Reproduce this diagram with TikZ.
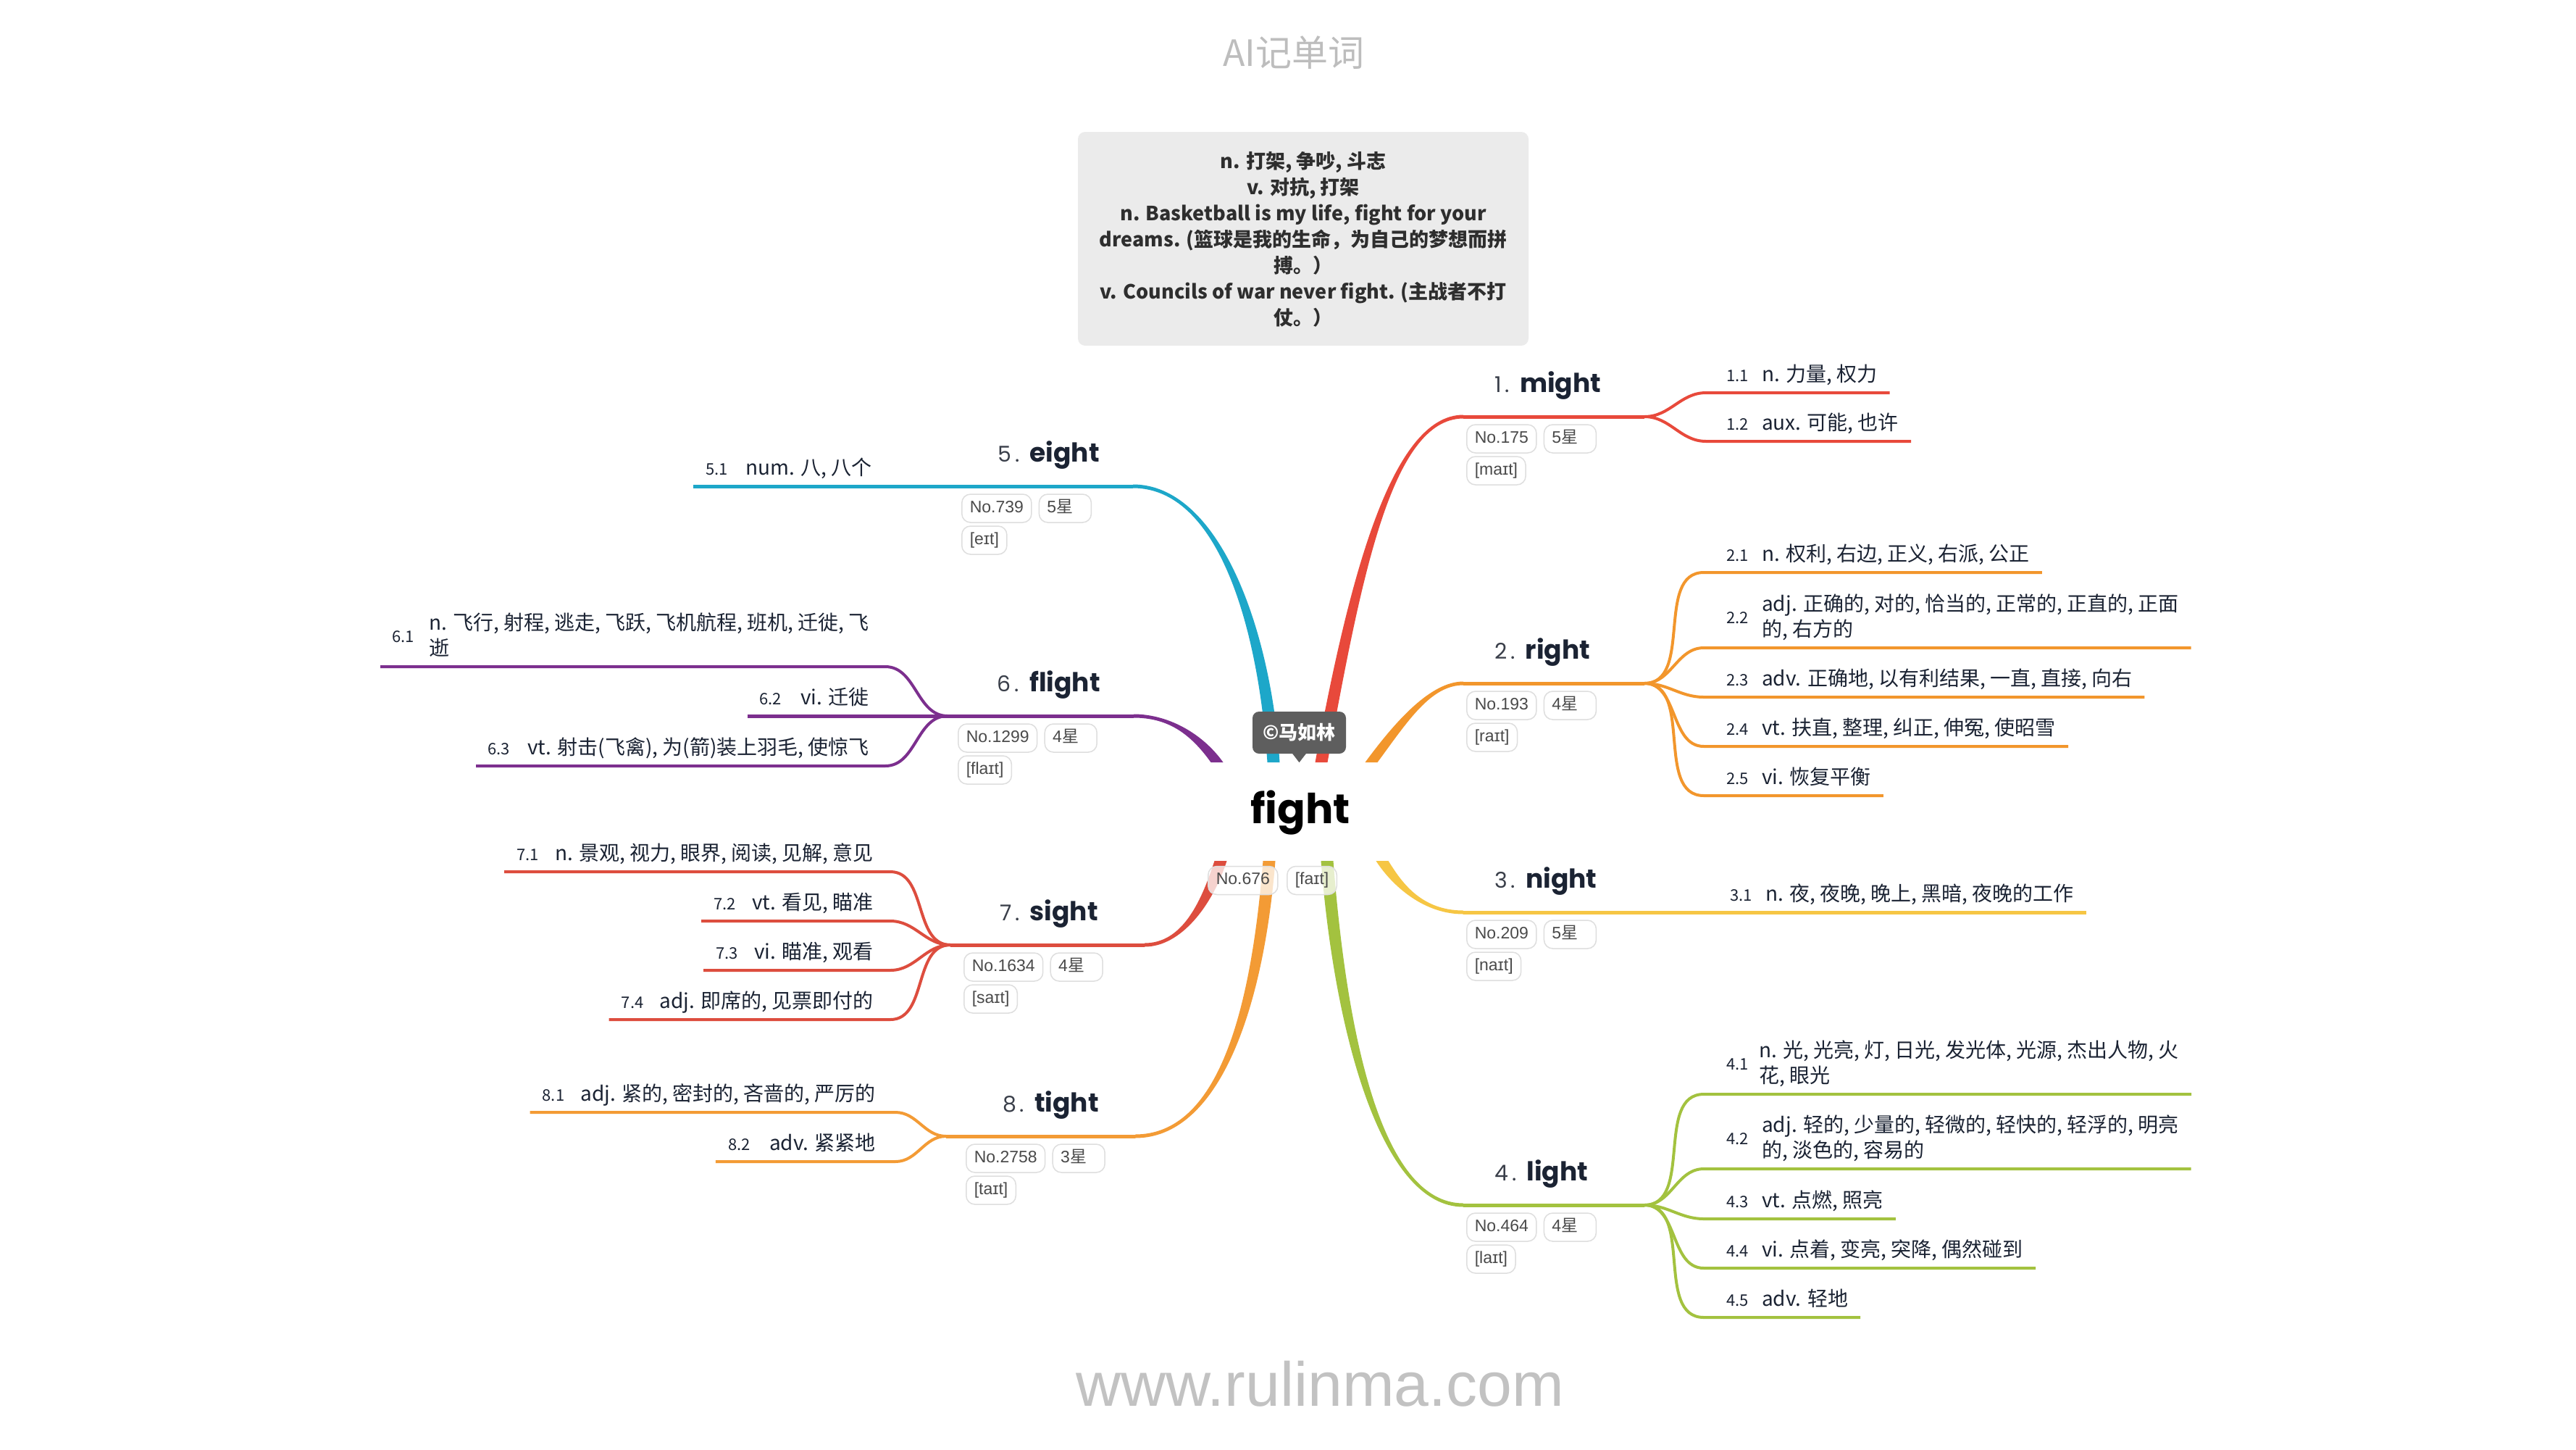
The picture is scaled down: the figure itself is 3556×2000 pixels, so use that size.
\documentclass[tikz,border=0pt]{standalone}
\usepackage{fontspec}
\setmainfont{Noto Sans CJK SC}
\newfontfamily\popfont{Poppins}
\newfontfamily\tagfam{Liberation Sans}
\newfontfamily\cjkf{Noto Sans CJK SC}
\usetikzlibrary{calc}
\definecolor{cmight}{HTML}{E8493B}
\definecolor{cright}{HTML}{F2962C}
\definecolor{cnight}{HTML}{F6C644}
\definecolor{clight}{HTML}{A3C23F}
\definecolor{ceight}{HTML}{1DA7C9}
\definecolor{cflight}{HTML}{7C2F8E}
\definecolor{csight}{HTML}{DD4D3E}
\definecolor{ctight}{HTML}{F39B35}
\definecolor{ink}{HTML}{1B2333}
\definecolor{numink}{HTML}{3A3F4A}
\definecolor{tagline}{HTML}{DEDEDE}
\definecolor{tagtext}{HTML}{4A4A4A}
\definecolor{notebg}{HTML}{EBEBEB}
\definecolor{notetext}{HTML}{2E2E2E}
\definecolor{bubble}{HTML}{5E5E5E}
\definecolor{titlegray}{HTML}{BDBDBD}
\definecolor{wmgray}{HTML}{C2C2C2}
\newcommand\myitemfont{\fontsize{28}{34}\selectfont}
\newcommand\mynumfont{\fontsize{22}{26}\selectfont}
\newcommand\mytagfont{\tagfam\fontsize{23}{27}\selectfont}
\newcommand\brttl[2]{{\popfont\color{numink}\fontsize{30}{36}\selectfont #1\hspace{5pt}.}\hspace{14pt}{\popfont\bfseries\fontsize{36}{42}\selectfont #2}}
\newcommand\starbox[1]{\makebox[50pt][l]{#1{\cjkf 星}}}
% tapered branch: -x side of start pairs with top of end
\newcommand\branchT[5]{\fill[#1] ($(#2)+(-8.5,0)$) .. controls ($(#3)+(-8.5,0)$) and ($(#4)+(0,-2.5)$) .. ($(#5)+(0,-2.5)$) -- ($(#5)+(0,2.5)$) .. controls ($(#4)+(0,2.5)$) and ($(#3)+(8.5,0)$) .. ($(#2)+(8.5,0)$) -- cycle;}
% tapered branch: -x side of start pairs with bottom of end
\newcommand\branchB[5]{\fill[#1] ($(#2)+(-8.5,0)$) .. controls ($(#3)+(-8.5,0)$) and ($(#4)+(0,2.5)$) .. ($(#5)+(0,2.5)$) -- ($(#5)+(0,-2.5)$) .. controls ($(#4)+(0,-2.5)$) and ($(#3)+(8.5,0)$) .. ($(#2)+(8.5,0)$) -- cycle;}
\tikzset{
  itemR/.style={anchor=base west, inner sep=0pt, font=\myitemfont, text=ink},
  itemL/.style={anchor=base east, inner sep=0pt, font=\myitemfont, text=ink},
  numR/.style={anchor=base west, inner sep=0pt, font=\mynumfont, text=ink},
  numL/.style={anchor=base east, inner sep=0pt, font=\mynumfont, text=ink},
  ttlR/.style={anchor=base west, inner sep=0pt, text=ink},
  ttlL/.style={anchor=base east, inner sep=0pt, text=ink},
  tagbox/.style={draw=tagline, line width=1.5pt, fill=white, rounded corners=12pt,
    inner xsep=11pt, inner ysep=0pt, minimum height=39pt, text height=16pt, text depth=5pt,
    font=\mytagfont, text=tagtext, anchor=west},
  subline/.style={line width=4pt},
  mainline/.style={line width=5pt},
}
\begin{document}
\begin{tikzpicture}[x=1pt,y=-1pt]
\useasboundingbox (0,0) rectangle (3556,2000);
\fill[white] (0,0) rectangle (3556,2000);

% ---------- coordinates of the main branches ----------
\coordinate (b1s) at (1824,1052); \coordinate (b1a) at (1870,802); \coordinate (b1b) at (1920,575); \coordinate (b1e) at (2020,575); \coordinate (b1x) at (2270,575);
\coordinate (b2s) at (1893,1052); \coordinate (b2a) at (1935,995); \coordinate (b2b) at (1975,943); \coordinate (b2e) at (2020,943); \coordinate (b2x) at (2270,943);
\coordinate (b3s) at (1908,1188); \coordinate (b3a) at (1925,1215); \coordinate (b3b) at (1960,1259); \coordinate (b3e) at (2020,1259);
\coordinate (b4s) at (1832,1188); \coordinate (b4a) at (1850,1420); \coordinate (b4b) at (1905,1663); \coordinate (b4e) at (2020,1663); \coordinate (b4x) at (2270,1663);
\coordinate (b5s) at (1758,1052); \coordinate (b5a) at (1745,860); \coordinate (b5b) at (1680,671); \coordinate (b5e) at (1564,671);
\coordinate (b6s) at (1680,1052); \coordinate (b6a) at (1650,1010); \coordinate (b6b) at (1610,988); \coordinate (b6e) at (1565,988); \coordinate (b6x) at (1308,988);
\coordinate (b7s) at (1685,1188); \coordinate (b7a) at (1665,1250); \coordinate (b7b) at (1630,1304); \coordinate (b7e) at (1580,1304); \coordinate (b7x) at (1312,1304);
\coordinate (b8s) at (1752,1188); \coordinate (b8a) at (1735,1400); \coordinate (b8b) at (1680,1568); \coordinate (b8e) at (1567,1568); \coordinate (b8x) at (1306,1568);

\branchT{cmight}{b1s}{b1a}{b1b}{b1e}
\branchT{cright}{b2s}{b2a}{b2b}{b2e}
\branchB{cnight}{b3s}{b3a}{b3b}{b3e}
\branchB{clight}{b4s}{b4a}{b4b}{b4e}
\branchB{ceight}{b5s}{b5a}{b5b}{b5e}
\branchB{cflight}{b6s}{b6a}{b6b}{b6e}
\branchT{csight}{b7s}{b7a}{b7b}{b7e}
\branchT{ctight}{b8s}{b8a}{b8b}{b8e}

\draw[mainline,cmight] (b1e) -- (b1x);
\draw[mainline,cright] (b2e) -- (b2x);
\draw[mainline,clight] (b4e) -- (b4x);
\draw[mainline,cflight] (b6e) -- (b6x);
\draw[mainline,csight] (b7e) -- (b7x);
\draw[mainline,ctight] (b8e) -- (b8x);

% ---------- title, note, watermark ----------
\node[anchor=base, inner sep=0pt, font=\fontsize{50}{56}\selectfont, text=titlegray] (ttl) at (1786,91) {AI记单词};
\node[fill=notebg, rounded corners=10pt, minimum width=622pt, minimum height=295pt, inner sep=0pt] (notebox) at (1799,329.5) {};
\node[align=center, font=\bfseries\fontsize{27}{36}\selectfont, text=notetext, inner sep=0pt] (note) at (1799,330) {n. 打架, 争吵, 斗志\\v. 对抗, 打架\\n. Basketball is my life, fight for your\\dreams. (篮球是我的生命，为自己的梦想而拼\\搏。）\\v. Councils of war never fight. (主战者不打\\仗。）};
\node[anchor=base, inner sep=0pt, font=\tagfam\fontsize{86}{96}\selectfont, text=wmgray] (wm) at (1822,1940) {www.rulinma.com};

% ---------- 1 might ----------
\node[ttlR] (h1) at (2063,541) {\brttl{1}{might}};
\node[tagbox] (g1a) at (2024,605.5) {No.175};
\node[tagbox] (g1b) at ($(g1a.east)+(9,0)$) {\starbox{5}};
\node[tagbox] (g1c) at (2024,649.5) {[maɪt]};
\node[numR] (n11) at (2383,526) {1.1};
\node[itemR] (t11) at (2432,526) {n. 力量, 权力};
\coordinate (s11) at (2355,542); \coordinate (e11) at ($(t11.east)+(17,0)$);
\draw[subline,cmight] (b1x) to[out=0,in=180] (s11) -- (s11 -| e11);
\node[numR] (n12) at (2383,593) {1.2};
\node[itemR] (t12) at (2432,593) {aux. 可能, 也许};
\coordinate (s12) at (2355,609); \coordinate (e12) at ($(t12.east)+(17,0)$);
\draw[subline,cmight] (b1x) to[out=0,in=180] (s12) -- (s12 -| e12);

% ---------- 2 right ----------
\node[ttlR] (h2) at (2063,909) {\brttl{2}{right}};
\node[tagbox] (g2a) at (2024,973.5) {No.193};
\node[tagbox] (g2b) at ($(g2a.east)+(9,0)$) {\starbox{4}};
\node[tagbox] (g2c) at (2024,1017.5) {[raɪt]};
\node[numR] (n21) at (2383,774) {2.1};
\node[itemR] (t21) at (2432,774) {n. 权利, 右边, 正义, 右派, 公正};
\coordinate (s21) at (2352,790); \coordinate (e21) at ($(t21.east)+(17,0)$);
\draw[subline,cright] (b2x) to[out=0,in=180] (s21) -- (s21 -| e21);
\node[numR] (n22) at (2383,860.5) {2.2};
\node[itemR] (t22a) at (2432,843) {adj. 正确的, 对的, 恰当的, 正常的, 正直的, 正面};
\node[itemR] (t22b) at (2432,878) {的, 右方的};
\coordinate (s22) at (2352,894); \coordinate (e22) at ($(t22a.east)+(17,0)$);
\draw[subline,cright] (b2x) to[out=0,in=180] (s22) -- (s22 -| e22);
\node[numR] (n23) at (2383,946) {2.3};
\node[itemR] (t23) at (2432,946) {adv. 正确地, 以有利结果, 一直, 直接, 向右};
\coordinate (s23) at (2352,962); \coordinate (e23) at ($(t23.east)+(17,0)$);
\draw[subline,cright] (b2x) to[out=0,in=180] (s23) -- (s23 -| e23);
\node[numR] (n24) at (2383,1014) {2.4};
\node[itemR] (t24) at (2432,1014) {vt. 扶直, 整理, 纠正, 伸冤, 使昭雪};
\coordinate (s24) at (2352,1030); \coordinate (e24) at ($(t24.east)+(17,0)$);
\draw[subline,cright] (b2x) to[out=0,in=180] (s24) -- (s24 -| e24);
\node[numR] (n25) at (2383,1082) {2.5};
\node[itemR] (t25) at (2432,1082) {vi. 恢复平衡};
\coordinate (s25) at (2352,1098); \coordinate (e25) at ($(t25.east)+(17,0)$);
\draw[subline,cright] (b2x) to[out=0,in=180] (s25) -- (s25 -| e25);

% ---------- 3 night ----------
\node[ttlR] (h3) at (2063,1225) {\brttl{3}{night}};
\node[tagbox] (g3a) at (2024,1289.5) {No.209};
\node[tagbox] (g3b) at ($(g3a.east)+(9,0)$) {\starbox{5}};
\node[tagbox] (g3c) at (2024,1333.5) {[naɪt]};
\node[numR] (n31) at (2388,1243) {3.1};
\node[itemR] (t31) at (2437,1243) {n. 夜, 夜晚, 晚上, 黑暗, 夜晚的工作};
\coordinate (e31) at ($(t31.east)+(17,0)$);
\draw[mainline,cnight] (b3e) -- (b3e -| e31);

% ---------- 4 light ----------
\node[ttlR] (h4) at (2063,1629) {\brttl{4}{light}};
\node[tagbox] (g4a) at (2024,1693.5) {No.464};
\node[tagbox] (g4b) at ($(g4a.east)+(9,0)$) {\starbox{4}};
\node[tagbox] (g4c) at (2024,1737.5) {[laɪt]};
\node[numR] (n41) at (2383,1476.5) {4.1};
\node[itemR] (t41a) at (2428,1459) {n. 光, 光亮, 灯, 日光, 发光体, 光源, 杰出人物, 火};
\node[itemR] (t41b) at (2428,1494) {花, 眼光};
\coordinate (s41) at (2352,1510); \coordinate (e41) at ($(t41a.east)+(17,0)$);
\draw[subline,clight] (b4x) to[out=0,in=180] (s41) -- (s41 -| e41);
\node[numR] (n42) at (2383,1579.5) {4.2};
\node[itemR] (t42a) at (2432,1562) {adj. 轻的, 少量的, 轻微的, 轻快的, 轻浮的, 明亮};
\node[itemR] (t42b) at (2432,1597) {的, 淡色的, 容易的};
\coordinate (s42) at (2352,1613); \coordinate (e42) at ($(t42a.east)+(17,0)$);
\draw[subline,clight] (b4x) to[out=0,in=180] (s42) -- (s42 -| e42);
\node[numR] (n43) at (2383,1666) {4.3};
\node[itemR] (t43) at (2432,1666) {vt. 点燃, 照亮};
\coordinate (s43) at (2352,1682); \coordinate (e43) at ($(t43.east)+(17,0)$);
\draw[subline,clight] (b4x) to[out=0,in=180] (s43) -- (s43 -| e43);
\node[numR] (n44) at (2383,1734) {4.4};
\node[itemR] (t44) at (2432,1734) {vi. 点着, 变亮, 突降, 偶然碰到};
\coordinate (s44) at (2352,1750); \coordinate (e44) at ($(t44.east)+(17,0)$);
\draw[subline,clight] (b4x) to[out=0,in=180] (s44) -- (s44 -| e44);
\node[numR] (n45) at (2383,1802) {4.5};
\node[itemR] (t45) at (2432,1802) {adv. 轻地};
\coordinate (s45) at (2352,1818); \coordinate (e45) at ($(t45.east)+(17,0)$);
\draw[subline,clight] (b4x) to[out=0,in=180] (s45) -- (s45 -| e45);

% ---------- 5 eight ----------
\node[ttlL] (h5) at (1518,637) {\brttl{5}{eight}};
\node[tagbox] (g5a) at (1327,701.5) {No.739};
\node[tagbox] (g5b) at ($(g5a.east)+(9,0)$) {\starbox{5}};
\node[tagbox] (g5c) at (1327,745.5) {[eɪt]};
\node[itemL] (t51) at (1204,655) {num. 八, 八个};
\node[numL] (n51) at ($(t51.base west)+(-24,0)$) {5.1};
\coordinate (e51) at ($(n51.west)+(-17,0)$);
\draw[mainline,ceight] (b5e) -- (b5e -| e51);

% ---------- 6 flight ----------
\node[ttlL] (h6) at (1519,954) {\brttl{6}{flight}};
\node[tagbox] (g6a) at (1322,1018.5) {No.1299};
\node[tagbox] (g6b) at ($(g6a.east)+(9,0)$) {\starbox{4}};
\node[tagbox] (g6c) at (1322,1062.5) {[flaɪt]};
\node[itemL] (t61a) at (1200,869) {n. 飞行, 射程, 逃走, 飞跃, 飞机航程, 班机, 迁徙, 飞};
\node[itemR] (t61b) at ($(t61a.base west)+(0,35)$) {逝};
\node[numL] (n61) at ($(t61a.base west)+(-20,17.5)$) {6.1};
\coordinate (s61) at (1222,920); \coordinate (e61) at ($(n61.west)+(-16,0)$);
\draw[subline,cflight] (b6x) to[out=180,in=0] (s61) -- (s61 -| e61);
\node[itemL] (t62) at (1200,972) {vi. 迁徙};
\node[numL] (n62) at ($(t62.base west)+(-26,0)$) {6.2};
\coordinate (e62) at ($(n62.west)+(-16,0)$);
\draw[mainline,cflight] (b6x) -- (b6x -| e62);
\node[itemL] (t63) at (1200,1041) {vt. 射击(飞禽), 为(箭)装上羽毛, 使惊飞};
\node[numL] (n63) at ($(t63.base west)+(-24,0)$) {6.3};
\coordinate (s63) at (1222,1057); \coordinate (e63) at ($(n63.west)+(-16,0)$);
\draw[subline,cflight] (b6x) to[out=180,in=0] (s63) -- (s63 -| e63);

% ---------- 7 sight ----------
\node[ttlL] (h7) at (1516,1270) {\brttl{7}{sight}};
\node[tagbox] (g7a) at (1330,1334.5) {No.1634};
\node[tagbox] (g7b) at ($(g7a.east)+(9,0)$) {\starbox{4}};
\node[tagbox] (g7c) at (1330,1378.5) {[saɪt]};
\node[itemL] (t71) at (1206,1187) {n. 景观, 视力, 眼界, 阅读, 见解, 意见};
\node[numL] (n71) at ($(t71.base west)+(-22,0)$) {7.1};
\coordinate (s71) at (1229,1203); \coordinate (e71) at ($(n71.west)+(-17,0)$);
\draw[subline,csight] (b7x) to[out=180,in=0] (s71) -- (s71 -| e71);
\node[itemL] (t72) at (1206,1255) {vt. 看见, 瞄准};
\node[numL] (n72) at ($(t72.base west)+(-22,0)$) {7.2};
\coordinate (s72) at (1229,1271); \coordinate (e72) at ($(n72.west)+(-17,0)$);
\draw[subline,csight] (b7x) to[out=180,in=0] (s72) -- (s72 -| e72);
\node[itemL] (t73) at (1206,1323) {vi. 瞄准, 观看};
\node[numL] (n73) at ($(t73.base west)+(-22,0)$) {7.3};
\coordinate (s73) at (1229,1339); \coordinate (e73) at ($(n73.west)+(-17,0)$);
\draw[subline,csight] (b7x) to[out=180,in=0] (s73) -- (s73 -| e73);
\node[itemL] (t74) at (1206,1391) {adj. 即席的, 见票即付的};
\node[numL] (n74) at ($(t74.base west)+(-22,0)$) {7.4};
\coordinate (s74) at (1229,1407); \coordinate (e74) at ($(n74.west)+(-17,0)$);
\draw[subline,csight] (b7x) to[out=180,in=0] (s74) -- (s74 -| e74);

% ---------- 8 tight ----------
\node[ttlL] (h8) at (1517,1534) {\brttl{8}{tight}};
\node[tagbox] (g8a) at (1333,1598.5) {No.2758};
\node[tagbox] (g8b) at ($(g8a.east)+(9,0)$) {\starbox{3}};
\node[tagbox] (g8c) at (1333,1642.5) {[taɪt]};
\node[itemL] (t81) at (1209,1519) {adj. 紧的, 密封的, 吝啬的, 严厉的};
\node[numL] (n81) at ($(t81.base west)+(-22,0)$) {8.1};
\coordinate (s81) at (1236,1535); \coordinate (e81) at ($(n81.west)+(-17,0)$);
\draw[subline,ctight] (b8x) to[out=180,in=0] (s81) -- (s81 -| e81);
\node[itemL] (t82) at (1209,1587) {adv. 紧紧地};
\node[numL] (n82) at ($(t82.base west)+(-26,0)$) {8.2};
\coordinate (s82) at (1236,1603); \coordinate (e82) at ($(n82.west)+(-17,0)$);
\draw[subline,ctight] (b8x) to[out=180,in=0] (s82) -- (s82 -| e82);

% ---------- central topic ----------
\node[anchor=base, inner sep=0pt, font=\popfont\bfseries\fontsize{57}{64}\selectfont, text=black] (fight) at (1795,1136) {fight};
\node[tagbox, fill opacity=0.75, text opacity=1] (gc1) at (1667,1215) {No.676};
\node[tagbox, fill opacity=0.75, text opacity=1] (gc2) at (1776,1215) {[faɪt]};
\node[fill=bubble, rounded corners=9pt, minimum width=129pt, minimum height=58pt, inner sep=0pt, text=white, font=\bfseries\fontsize{26}{30}\selectfont] (cr) at (1793.5,1011) {©马如林};
\fill[bubble] ($(cr.south)+(-10,-1)$) -- ($(cr.south)+(10,-1)$) -- ($(cr.south)+(0,12)$) -- cycle;
\end{tikzpicture}
\end{document}
